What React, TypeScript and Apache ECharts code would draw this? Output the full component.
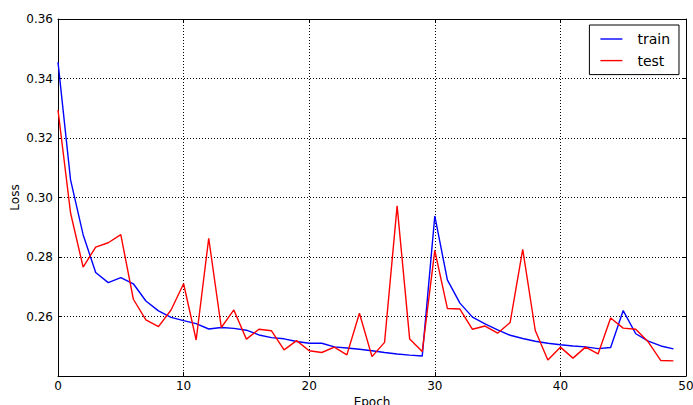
import React, { useEffect, useRef } from "react";
import * as echarts from "echarts";

const epochs = [
  0, 1, 2, 3, 4, 5, 6, 7, 8, 9, 10, 11, 12, 13, 14, 15, 16, 17, 18, 19, 20, 21, 22, 23, 24,
  25, 26, 27, 28, 29, 30, 31, 32, 33, 34, 35, 36, 37, 38, 39, 40, 41, 42, 43, 44, 45, 46, 47, 48, 49,
];

const trainLoss = [
  0.3455, 0.3059, 0.2875, 0.2748, 0.2714, 0.2731, 0.271, 0.2652, 0.2619, 0.2597,
  0.2586, 0.2576, 0.2558, 0.2563, 0.256, 0.2554, 0.2538, 0.2529, 0.2525, 0.2516,
  0.251, 0.251, 0.2498, 0.2494, 0.249, 0.2485, 0.2479, 0.2474, 0.247, 0.2467,
  0.2938, 0.2723, 0.2645, 0.2598, 0.2575, 0.2555, 0.2537, 0.2526, 0.2517, 0.251,
  0.2505, 0.2501, 0.2498, 0.2492, 0.2496, 0.262, 0.2542, 0.2517, 0.2501, 0.2491,
];

const testLoss = [
  0.3294, 0.2948, 0.2766, 0.2833, 0.2848, 0.2875, 0.2658, 0.2589, 0.2566, 0.2622,
  0.271, 0.2521, 0.2863, 0.2563, 0.2622, 0.2524, 0.2557, 0.2552, 0.2488, 0.2519,
  0.2485, 0.2479, 0.2497, 0.2471, 0.2611, 0.2465, 0.2513, 0.2972, 0.2524, 0.2482,
  0.2822, 0.2627, 0.2625, 0.2557, 0.2568, 0.2544, 0.258, 0.2826, 0.2553, 0.2454,
  0.2497, 0.246, 0.2497, 0.2474, 0.2595, 0.2561, 0.2557, 0.2514, 0.2452, 0.2451,
];

const xTicks = { min: 0, max: 50, interval: 10 };
const yTicks = { min: 0.24, max: 0.36, interval: 0.02 };

const FONT = "DejaVu Sans";

export default function App() {
  const ref = useRef<HTMLDivElement>(null);
  useEffect(() => {
    if (!ref.current) return;
    const chart = echarts.init(ref.current, undefined, { renderer: "svg" });
    const gridLine = { show: true, lineStyle: { color: "#000", width: 1, type: [1, 2] as any } };
    const axisLine = { show: true, onZero: false, lineStyle: { color: "#000", width: 1 } };
    const tick = { show: true, inside: true, length: 4, lineStyle: { color: "#000", width: 1 } };
    chart.setOption({
      animation: false,
      textStyle: { fontFamily: FONT },
      grid: {
        left: 58,
        top: 19,
        right: 7,
        bottom: 29,
        containLabel: false,
        outerBoundsMode: "none",
      },
      legend: {
        right: 14,
        top: 25,
        orient: "vertical",
        backgroundColor: "#fff",
        borderColor: "#000",
        borderWidth: 1,
        borderRadius: 0,
        padding: [7, 9, 7, 11],
        icon: "rect",
        itemWidth: 22,
        itemHeight: 1.4,
        itemGap: 7.6,
        textStyle: {
          fontFamily: FONT,
          fontSize: 14,
          lineHeight: 14,
          color: "#000",
          padding: [0, 0, 0, 10],
        },
        data: [
          { name: "train", itemStyle: { color: "#0000ff" } },
          { name: "test", itemStyle: { color: "#ff0000" } },
        ],
      },
      xAxis: [
        {
          type: "value",
          ...xTicks,
          name: "Epoch",
          nameLocation: "middle",
          nameGap: 20,
          nameMoveOverlap: false,
          nameTextStyle: { fontFamily: FONT, fontSize: 12, color: "#000" },
          axisLine,
          axisTick: tick,
          axisLabel: { color: "#000", fontFamily: FONT, fontSize: 12, margin: 4 },
          splitLine: gridLine,
        },
        {
          type: "value",
          position: "top",
          ...xTicks,
          axisLine,
          axisTick: tick,
          axisLabel: { show: false },
          splitLine: { show: false },
        },
      ],
      yAxis: [
        {
          type: "value",
          ...yTicks,
          name: "Loss",
          nameLocation: "middle",
          nameGap: 37,
          nameMoveOverlap: false,
          nameTextStyle: { fontFamily: FONT, fontSize: 12, color: "#000" },
          axisLine,
          axisTick: tick,
          axisLabel: {
            color: "#000",
            fontFamily: FONT,
            fontSize: 12,
            margin: 5,
            showMinLabel: false,
            formatter: (v: number) => v.toFixed(2),
          },
          splitLine: gridLine,
        },
        {
          type: "value",
          position: "right",
          ...yTicks,
          axisLine,
          axisTick: tick,
          axisLabel: { show: false },
          splitLine: { show: false },
        },
      ],
      series: [
        {
          name: "train",
          type: "line",
          symbol: "none",
          data: epochs.map((e, i) => [e, trainLoss[i]]),
          lineStyle: { color: "#0000ff", width: 1.4 },
          itemStyle: { color: "#0000ff" },
          z: 3,
        },
        {
          name: "test",
          type: "line",
          symbol: "none",
          data: epochs.map((e, i) => [e, testLoss[i]]),
          lineStyle: { color: "#ff0000", width: 1.4 },
          itemStyle: { color: "#ff0000" },
          z: 4,
        },
      ],
    });
    return () => chart.dispose();
  }, []);
  return (
    <div
      ref={ref}
      style={{ position: "fixed", left: 0, top: 0, width: 693, height: 405, background: "#fff" }}
    />
  );
}
